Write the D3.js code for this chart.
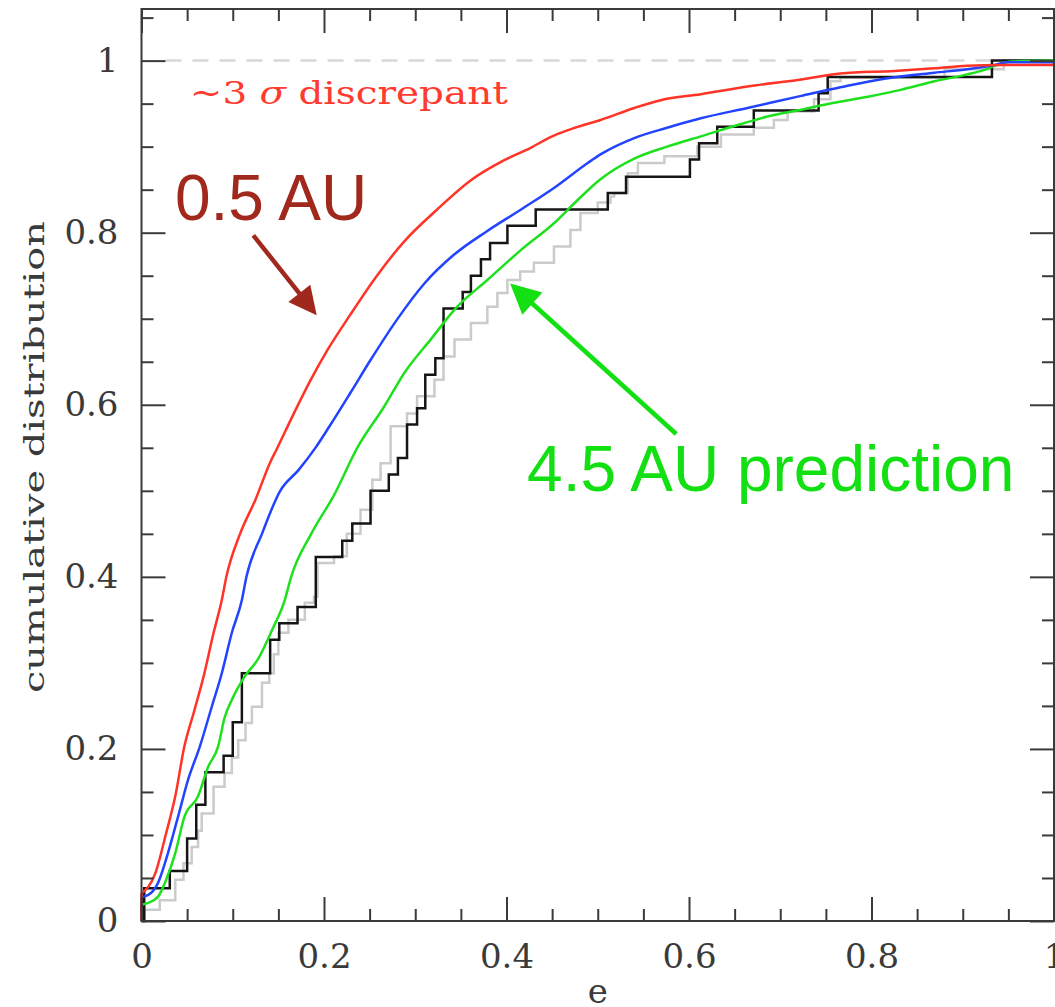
<!DOCTYPE html>
<html>
<head>
<meta charset="utf-8">
<script src="https://cdn.jsdelivr.net/npm/d3@7"></script>
<style>
  html, body { margin: 0; padding: 0; background: #fff; overflow: hidden; }
  svg { display: block; }
</style>
</head>
<body>
<svg id="chart" width="1055" height="1007"></svg>
<script>
// ---------------- data ----------------
const xMajorTicks = [0, 0.2, 0.4, 0.6, 0.8, 1];
const xTickLabels = ["0", "0.2", "0.4", "0.6", "0.8", "1"];
const yMajorTicks = [0, 0.2, 0.4, 0.6, 0.8, 1];
const yTickLabels = ["0", "0.2", "0.4", "0.6", "0.8", "1"];
const minorTicks = [0.05, 0.1, 0.15, 0.25, 0.3, 0.35, 0.45, 0.5, 0.55, 0.65, 0.7, 0.75, 0.85, 0.9, 0.95];
const yMinorExtra = [1.05];

const xLabel = "e";
const yLabel = "cumulative distribution";

// 0.5 AU model (red): value at e=0 (jump), then the curve
const redStart = 0.032;
const redCurve = [[0,0.032],[0.015,0.055],[0.027,0.102],[0.037,0.145],[0.047,0.203],[0.058,0.245],
  [0.068,0.284],[0.079,0.335],[0.088,0.373],[0.093,0.4],[0.108,0.45],[0.125,0.49],[0.141,0.533],[0.148,0.548],
  [0.167,0.59],[0.185,0.628],[0.204,0.664],[0.229,0.705],[0.258,0.75],[0.288,0.79],[0.324,0.827],[0.361,0.861],
  [0.397,0.884],[0.427,0.899],[0.45,0.912],[0.475,0.922],[0.503,0.931],[0.54,0.945],[0.569,0.954],[0.613,0.961],
  [0.664,0.97],[0.723,0.978],[0.766,0.985],[0.825,0.988],[0.869,0.991],[0.905,0.994],[0.942,0.995],[1,0.995]];
// blue model
const blueStart = 0.028;
const blueCurve = [[0,0.028],[0.007,0.03],[0.018,0.044],[0.029,0.079],[0.04,0.121],[0.051,0.164],[0.064,0.203],
  [0.077,0.249],[0.088,0.288],[0.099,0.335],[0.11,0.373],[0.115,0.4],[0.132,0.45],[0.152,0.5],
  [0.172,0.524],[0.19,0.549],[0.206,0.575],[0.229,0.614],[0.251,0.652],[0.28,0.699],[0.31,0.741],[0.342,0.774],
  [0.379,0.802],[0.416,0.827],[0.452,0.852],[0.489,0.881],[0.503,0.891],[0.54,0.91],[0.576,0.922],[0.613,0.933],
  [0.664,0.945],[0.723,0.959],[0.766,0.969],[0.814,0.979],[0.869,0.986],[0.905,0.99],[0.935,0.995],[0.949,0.998],[1,0.998]];
// 4.5 AU prediction (green)
const greenStart = 0.019;
const greenCurve = [[0,0.019],[0.007,0.021],[0.018,0.028],[0.027,0.048],[0.037,0.079],[0.047,0.121],[0.062,0.145],
  [0.073,0.179],[0.084,0.203],[0.091,0.236],[0.099,0.257],[0.113,0.284],[0.128,0.305],[0.143,0.338],[0.157,0.373],
  [0.164,0.4],[0.186,0.45],[0.211,0.495],[0.237,0.551],[0.266,0.598],[0.288,0.637],[0.317,0.676],[0.346,0.714],
  [0.379,0.745],[0.416,0.78],[0.452,0.811],[0.478,0.838],[0.503,0.862],[0.54,0.886],[0.576,0.9],[0.613,0.912],
  [0.656,0.926],[0.686,0.935],[0.723,0.943],[0.759,0.951],[0.796,0.958],[0.832,0.966],[0.869,0.976],[0.905,0.984],
  [0.923,0.989],[0.938,0.995],[0.953,0.999],[1,1]];
// observed sample (black step, 52 objects)
const blackSteps = [[0,0],[0.003,0.038],[0.031,0.058],[0.05,0.096],[0.06,0.135],[0.07,0.173],[0.09,0.192],[0.1,0.231],
  [0.11,0.288],[0.141,0.327],[0.151,0.346],[0.171,0.365],[0.191,0.423],[0.22,0.442],[0.231,0.462],[0.251,0.5],
  [0.271,0.519],[0.281,0.538],[0.291,0.577],[0.302,0.596],[0.311,0.635],[0.322,0.654],[0.331,0.712],[0.352,0.731],
  [0.361,0.75],[0.372,0.769],[0.382,0.788],[0.401,0.808],[0.432,0.827],[0.511,0.846],[0.531,0.865],[0.601,0.885],
  [0.611,0.904],[0.631,0.923],[0.671,0.942],[0.742,0.962],[0.752,0.981],[0.932,1.0],[1,1.0]];
// light gray step
const graySteps = [[0,0],[0.003,0.013],[0.02,0.024],[0.037,0.048],[0.046,0.067],[0.055,0.086],[0.062,0.105],[0.066,0.125],
  [0.079,0.156],[0.091,0.172],[0.099,0.19],[0.106,0.21],[0.114,0.23],[0.121,0.249],[0.132,0.277],[0.14,0.288],
  [0.145,0.31],[0.15,0.335],[0.161,0.35],[0.179,0.37],[0.189,0.377],[0.193,0.416],[0.211,0.424],[0.225,0.45],
  [0.24,0.478],[0.253,0.513],[0.262,0.532],[0.273,0.575],[0.291,0.59],[0.302,0.61],[0.321,0.629],[0.331,0.656],
  [0.343,0.676],[0.361,0.695],[0.379,0.714],[0.39,0.73],[0.401,0.745],[0.415,0.755],[0.43,0.765],[0.452,0.784],
  [0.47,0.803],[0.481,0.823],[0.5,0.835],[0.514,0.842],[0.518,0.846],[0.533,0.869],[0.544,0.881],[0.573,0.889],
  [0.609,0.9],[0.635,0.914],[0.671,0.922],[0.693,0.931],[0.708,0.941],[0.737,0.955],[0.755,0.976],[0.766,0.98],
  [0.88,0.99],[0.945,1.0],[1,1.0]];

// annotations (data coordinates)
const noteSigma = { text1: "~3 ", sym: "σ", text2: " discrepant", e: 0.053, y: 0.95 };
const note05 = { text: "0.5 AU", e: 0.0367, y: 0.815 };
const note45 = { text: "4.5 AU prediction", e: 0.4225, y: 0.4995 };
const arrow05 = { from: [0.1225, 0.797], to: [0.192, 0.704] };
const arrow45 = { from: [0.586, 0.566], to: [0.404, 0.741] };

// ---------------- drawing ----------------
const svg = d3.select("#chart");
const X0 = 141.5, X1 = 1054, Y0 = 921, Y1 = 9;
const x = d3.scaleLinear().domain([0, 1]).range([X0, X1]);
const y = d3.scaleLinear().domain([0, 1.06]).range([Y0, Y1]);

svg.append("rect").attr("width", 1055).attr("height", 1007).attr("fill", "#fff");

const serif = "'DejaVu Serif', serif";
const sans = "'Liberation Sans', Arial, sans-serif";
const axisColor = "#3a3a3a";
const textColor = "#3a3a3a";

// reference dashed line at 1
svg.append("line")
  .attr("x1", x(0) + 24).attr("x2", x(1))
  .attr("y1", y(1)).attr("y2", y(1))
  .attr("stroke", "#d8d8d8").attr("stroke-width", 2.5)
  .attr("stroke-dasharray", "16 11");

const plot = svg.append("g");
const lineSmooth = d3.line().x(d => x(d[0])).y(d => y(d[1])).curve(d3.curveMonotoneX);
const lineStep = d3.line().x(d => x(d[0])).y(d => y(d[1])).curve(d3.curveStepAfter);
const lineLin = d3.line().x(d => x(d[0])).y(d => y(d[1]));

plot.append("path").datum(graySteps).attr("d", lineStep)
  .attr("fill", "none").attr("stroke", "#cbcbcb").attr("stroke-width", 2.5);
plot.append("path").datum(blackSteps).attr("d", lineStep)
  .attr("fill", "none").attr("stroke", "#151515").attr("stroke-width", 2.5);

function model(data, start, color) {
  plot.append("path").datum([[0, 0], [0, start]]).attr("d", lineLin)
    .attr("fill", "none").attr("stroke", color).attr("stroke-width", 2.5);
  plot.append("path").datum(data).attr("d", lineSmooth)
    .attr("fill", "none").attr("stroke", color).attr("stroke-width", 2.5).attr("stroke-linejoin", "round");
}
model(greenCurve, greenStart, "#1fe01f");
model(blueCurve, blueStart, "#2244ff");
model(redCurve, redStart, "#ff3326");

// axes (ticks inward on all sides)
function styleAxis(g) {
  g.select(".domain").remove();
  g.selectAll(".tick line").attr("stroke", axisColor).attr("stroke-width", 2);
  g.selectAll(".tick text").attr("font-family", serif).attr("font-size", 34).attr("fill", textColor);
}
const fmtX = (d, i) => xTickLabels[i];
const fmtY = (d, i) => yTickLabels[i];

svg.append("g").attr("transform", `translate(0,${Y0})`)
  .call(d3.axisBottom(x).tickValues(xMajorTicks).tickFormat(fmtX).tickSize(-24).tickPadding(23))
  .call(styleAxis);
svg.append("g").attr("transform", `translate(0,${Y0})`)
  .call(d3.axisBottom(x).tickValues(minorTicks).tickFormat("").tickSize(-12))
  .call(styleAxis);
svg.append("g").attr("transform", `translate(0,${Y1})`)
  .call(d3.axisTop(x).tickValues(xMajorTicks).tickFormat("").tickSize(-24))
  .call(styleAxis);
svg.append("g").attr("transform", `translate(0,${Y1})`)
  .call(d3.axisTop(x).tickValues(minorTicks).tickFormat("").tickSize(-12))
  .call(styleAxis);
svg.append("g").attr("transform", `translate(${X0},0)`)
  .call(d3.axisLeft(y).tickValues(yMajorTicks).tickFormat(fmtY).tickSize(-24).tickPadding(23))
  .call(styleAxis);
svg.append("g").attr("transform", `translate(${X0},0)`)
  .call(d3.axisLeft(y).tickValues(minorTicks.concat(yMinorExtra)).tickFormat("").tickSize(-12))
  .call(styleAxis);
svg.append("g").attr("transform", `translate(${X1},0)`)
  .call(d3.axisRight(y).tickValues(yMajorTicks).tickFormat("").tickSize(-24))
  .call(styleAxis);
svg.append("g").attr("transform", `translate(${X1},0)`)
  .call(d3.axisRight(y).tickValues(minorTicks.concat(yMinorExtra)).tickFormat("").tickSize(-12))
  .call(styleAxis);

// frame
svg.append("rect").attr("x", X0).attr("y", Y1).attr("width", X1 - X0).attr("height", Y0 - Y1)
  .attr("fill", "none").attr("stroke", axisColor).attr("stroke-width", 2);

// axis titles
svg.append("text").attr("x", x(0.5)).attr("y", 1003)
  .attr("text-anchor", "middle").attr("font-family", serif).attr("font-size", 34).attr("fill", textColor)
  .text(xLabel);
svg.append("text").attr("transform", `translate(44,${(221 + 693) / 2}) rotate(-90)`)
  .attr("text-anchor", "middle").attr("font-family", serif).attr("font-size", 27).attr("fill", textColor)
  .attr("textLength", 472).attr("lengthAdjust", "spacingAndGlyphs")
  .text(yLabel);

// annotations
const sig = svg.append("text").attr("x", x(noteSigma.e)).attr("y", y(noteSigma.y))
  .attr("font-family", serif).attr("font-size", 32).attr("fill", "#ff3a2e")
  .attr("textLength", 318).attr("lengthAdjust", "spacingAndGlyphs");
sig.append("tspan").text(noteSigma.text1);
sig.append("tspan").attr("font-style", "italic").text(noteSigma.sym);
sig.append("tspan").text(noteSigma.text2);

svg.append("text").attr("x", x(note05.e)).attr("y", y(note05.y))
  .attr("font-family", sans).attr("font-size", 64).attr("fill", "#a0281c")
  .text(note05.text);
svg.append("text").attr("x", x(note45.e)).attr("y", y(note45.y))
  .attr("font-family", sans).attr("font-size", 64).attr("fill", "#12e012")
  .text(note45.text);

function arrow(a, color, w, headLen, headHalf) {
  const x1 = x(a.from[0]), y1 = y(a.from[1]), x2 = x(a.to[0]), y2 = y(a.to[1]);
  const dx = x2 - x1, dy = y2 - y1, L = Math.hypot(dx, dy);
  const ux = dx / L, uy = dy / L, px = -uy, py = ux;
  const bx = x2 - ux * headLen, by = y2 - uy * headLen;
  svg.append("line").attr("x1", x1).attr("y1", y1).attr("x2", bx + ux * 2).attr("y2", by + uy * 2)
    .attr("stroke", color).attr("stroke-width", w);
  svg.append("polygon")
    .attr("points", [[x2, y2], [bx + px * headHalf, by + py * headHalf], [bx - px * headHalf, by - py * headHalf]].map(p => p.join(",")).join(" "))
    .attr("fill", color);
}
arrow(arrow05, "#a0281c", 4.5, 28, 14);
arrow(arrow45, "#12e012", 4.5, 30, 15);
</script>
</body>
</html>
